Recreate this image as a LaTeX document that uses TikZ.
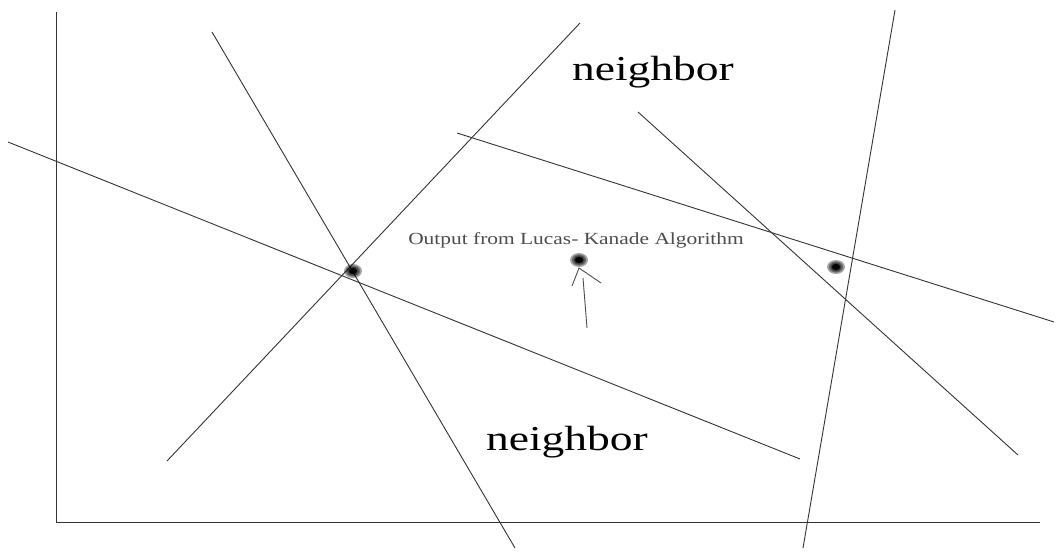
\documentclass[tikz,border=0pt]{standalone}
\usepackage{fontspec}
\setmainfont{Liberation Serif}
\begin{document}
\begin{tikzpicture}[x=1pt,y=-1pt,
  ln/.style={draw=black!80,line width=0.9pt},
  big/.style={font=\fontsize{35}{40}\selectfont,xscale=1.3,inner sep=0pt},
  small/.style={font=\fontsize{17}{20}\selectfont,xscale=1.26,text=black!70,inner sep=0pt}]
\useasboundingbox (0,0) rectangle (1056,552);
% axes
\coordinate (ytop) at (56,12);
\coordinate (org) at (56,522);
\coordinate (xend) at (1040,522);
\draw[ln] (ytop) -- (org) -- (xend);
% lines
\coordinate (a1) at (8,142);   \coordinate (a2) at (800,459);
\coordinate (b1) at (212,32);  \coordinate (b2) at (515,548);
\coordinate (c1) at (167,461); \coordinate (c2) at (580,23);
\coordinate (d1) at (457,133); \coordinate (d2) at (1054,322);
\coordinate (e1) at (638,112); \coordinate (e2) at (1018,455);
\coordinate (f1) at (895,10);  \coordinate (f2) at (803,548);
\draw[ln] (a1) -- (a2);
\draw[ln] (b1) -- (b2);
\draw[ln] (c1) -- (c2);
\draw[ln] (d1) -- (d2);
\draw[ln] (e1) -- (e2);
\draw[ln] (f1) -- (f2);
% dots
\foreach \n/\x/\y in {p1/353/271,p2/579/260,p3/836/267}{
  \coordinate (\n) at (\x,\y);
  \foreach \r in {1,0.8,0.65,0.5}{
    \fill[black,opacity=0.35] (\n) ellipse ({9*\r} and {7*\r});
  }
  \fill[black] (\n) ellipse (4 and 3);
}
% arrow
\coordinate (tip) at (579,268);
\coordinate (bl) at (572,286);
\coordinate (br) at (601,283);
\coordinate (s1) at (583,278);
\coordinate (s2) at (587,328);
\draw[ln,black!70] (bl) -- (tip) -- (br);
\draw[ln,black!70] (s1) -- (s2);
% texts
\node[big] (n1) at (653,72) {neighbor};
\node[big] (n2) at (567,442) {neighbor};
\node[small] (out) at (576,240) {Output from Lucas- Kanade Algorithm};
\end{tikzpicture}
\end{document}
